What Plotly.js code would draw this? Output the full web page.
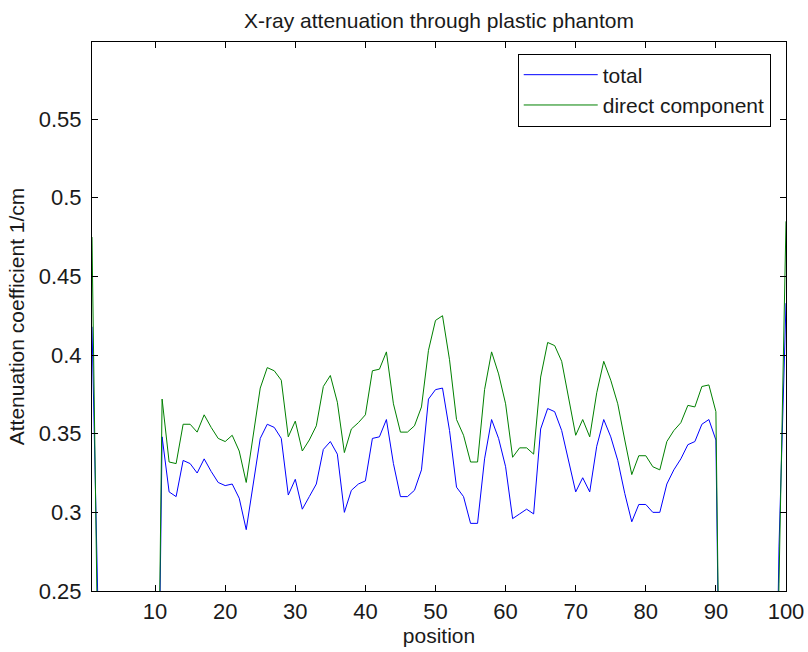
<!DOCTYPE html>
<html>
<head>
<meta charset="utf-8">
<script src="https://cdn.plot.ly/plotly-3.0.1.min.js"></script>
<style>
  html, body { margin: 0; padding: 0; background: #ffffff; }
  #chart { width: 808px; height: 652px; }
</style>
</head>
<body>
<div id="chart"></div>
<script>
// ---- data ----
const position = [
  1, 2, 3, 4, 5, 6, 7, 8, 9, 10,
  11, 12, 13, 14, 15, 16, 17, 18, 19, 20,
  21, 22, 23, 24, 25, 26, 27, 28, 29, 30,
  31, 32, 33, 34, 35, 36, 37, 38, 39, 40,
  41, 42, 43, 44, 45, 46, 47, 48, 49, 50,
  51, 52, 53, 54, 55, 56, 57, 58, 59, 60,
  61, 62, 63, 64, 65, 66, 67, 68, 69, 70,
  71, 72, 73, 74, 75, 76, 77, 78, 79, 80,
  81, 82, 83, 84, 85, 86, 87, 88, 89, 90,
  91, 92, 93, 94, 95, 96, 97, 98, 99, 100
];

const total = [
  0.418, 0.120, 0, 0, 0, 0, 0, 0, 0, 0,
  0.348, 0.313, 0.310, 0.333, 0.331, 0.325, 0.334, 0.326, 0.319, 0.317,
  0.318, 0.309, 0.289, 0.318, 0.347, 0.356, 0.354, 0.347, 0.311, 0.321,
  0.302, 0.310, 0.318, 0.340, 0.345, 0.337, 0.300, 0.314, 0.318, 0.320,
  0.347, 0.348, 0.359, 0.331, 0.310, 0.310, 0.314, 0.327, 0.372, 0.378,
  0.379, 0.352, 0.316, 0.310, 0.293, 0.293, 0.334, 0.359, 0.347, 0.329,
  0.296, 0.299, 0.302, 0.299, 0.353, 0.366, 0.364, 0.352, 0.333, 0.313,
  0.322, 0.313, 0.342, 0.359, 0.348, 0.333, 0.312, 0.294, 0.305, 0.305,
  0.300, 0.300, 0.318, 0.327, 0.334, 0.343, 0.345, 0.356, 0.359, 0.346,
  0, 0, 0, 0, 0, 0, 0, 0, 0.278, 0.433
];

const direct = [
  0.475, 0.150, 0, 0, 0, 0, 0, 0, 0, 0,
  0.372, 0.332, 0.331, 0.356, 0.356, 0.351, 0.362, 0.354, 0.347, 0.345,
  0.349, 0.339, 0.319, 0.350, 0.379, 0.392, 0.390, 0.384, 0.348, 0.358,
  0.339, 0.346, 0.355, 0.380, 0.387, 0.370, 0.338, 0.353, 0.357, 0.362,
  0.390, 0.391, 0.402, 0.369, 0.351, 0.351, 0.355, 0.367, 0.403, 0.422,
  0.425, 0.397, 0.359, 0.349, 0.332, 0.332, 0.378, 0.402, 0.388, 0.369,
  0.335, 0.341, 0.341, 0.337, 0.386, 0.408, 0.406, 0.396, 0.373, 0.349,
  0.359, 0.348, 0.376, 0.396, 0.384, 0.369, 0.346, 0.324, 0.336, 0.336,
  0.329, 0.327, 0.345, 0.352, 0.357, 0.368, 0.367, 0.380, 0.381, 0.364,
  0, 0, 0, 0, 0, 0, 0, 0, 0.255, 0.485
];

const seriesNames = ['total', 'direct component'];
const xTickVals = [10, 20, 30, 40, 50, 60, 70, 80, 90, 100];
const xTickText = ['10', '20', '30', '40', '50', '60', '70', '80', '90', '100'];
const yTickVals = [0.25, 0.3, 0.35, 0.4, 0.45, 0.5, 0.55];
const yTickText = ['0.25', '0.3', '0.35', '0.4', '0.45', '0.5', '0.55'];

// ---- styling ----
const FONT = '"Liberation Sans", Arial, Helvetica, sans-serif';
const FS = 21;
const TICKFS = 22;
const TXT = '#1a1a1a';

const traces = [
  {
    x: position, y: total, name: seriesNames[0], type: 'scatter', mode: 'lines',
    line: { color: '#0000ff', width: 1 }
  },
  {
    x: position, y: direct, name: seriesNames[1], type: 'scatter', mode: 'lines',
    line: { color: '#008000', width: 1 }
  }
];

const axisCommon = {
  showline: true, linecolor: '#000000', linewidth: 1, mirror: 'ticks',
  ticks: 'inside', ticklen: 6, tickcolor: '#000000', tickwidth: 1,
  showgrid: false, zeroline: false,
  tickfont: { family: FONT, size: TICKFS, color: TXT }
};

const layout = {
  width: 808, height: 652,
  paper_bgcolor: '#ffffff', plot_bgcolor: '#ffffff',
  margin: { l: 92, r: 22, t: 42, b: 61, pad: 0 },
  title: {
    text: 'X-ray attenuation through plastic phantom',
    font: { family: FONT, size: FS, color: TXT },
    x: 0.5, xanchor: 'center', xref: 'paper',
    y: 1 - 20.5 / 652, yanchor: 'middle', yref: 'container'
  },
  xaxis: Object.assign({}, axisCommon, {
    range: [1, 100], tickvals: xTickVals, ticktext: xTickText,
    ticklabelstandoff: 1,
    title: { text: 'position', font: { family: FONT, size: FS, color: TXT }, standoff: 3 }
  }),
  yaxis: Object.assign({}, axisCommon, {
    range: [0.25, 0.599], tickvals: yTickVals, ticktext: yTickText,
    ticklabelstandoff: 5,
    title: { text: 'Attenuation coefficient 1/cm', font: { family: FONT, size: FS, color: TXT }, standoff: 8 }
  }),
  showlegend: true,
  legend: {
    x: 0.978, xanchor: 'right', xref: 'paper',
    y: 0.979, yanchor: 'top', yref: 'paper',
    bgcolor: '#ffffff', bordercolor: '#000000', borderwidth: 1,
    font: { family: FONT, size: FS, color: TXT },
    itemwidth: 74, tracegroupgap: 0
  }
};

Plotly.newPlot('chart', traces, layout, { displayModeBar: false, staticPlot: true });
</script>
</body>
</html>
